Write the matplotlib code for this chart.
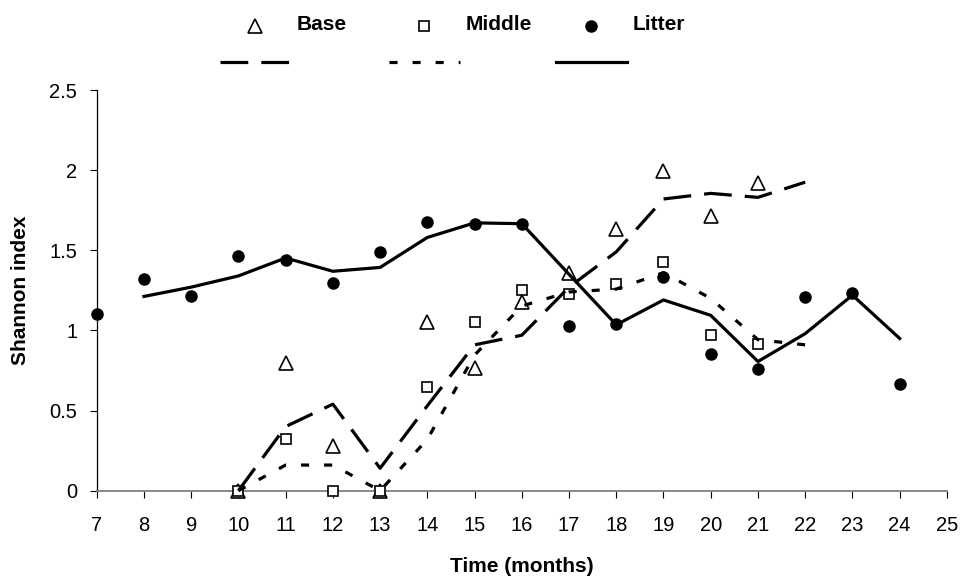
import matplotlib
matplotlib.use('Agg')
import matplotlib.pyplot as plt
from matplotlib.lines import Line2D

plt.rcParams['font.family'] = ['Liberation Sans', 'DejaVu Sans']
plt.rcParams['lines.scale_dashes'] = False

# Data
months_base = [10, 11, 12, 13, 14, 15, 16, 17, 18, 19, 20, 21]
base = [0, 0.795, 0.281, 0, 1.054, 0.765, 1.179, 1.356, 1.63, 1.994, 1.714, 1.918]
months_base_line = [10, 11, 12, 13, 14, 15, 16, 17, 18, 19, 20, 21, 22]
base_line = [0, 0.40, 0.54, 0.14, 0.53, 0.91, 0.97, 1.27, 1.49, 1.82, 1.855, 1.83, 1.925]

months_middle = [10, 11, 12, 13, 14, 15, 16, 17, 18, 19, 20, 21]
middle = [0, 0.325, 0, 0, 0.645, 1.054, 1.252, 1.227, 1.289, 1.429, 0.971, 0.913]
months_middle_line = [10, 11, 12, 13, 14, 15, 16, 17, 18, 19, 20, 21, 22]
middle_line = [0, 0.16, 0.16, 0, 0.32, 0.846, 1.152, 1.24, 1.258, 1.36, 1.20, 0.942, 0.91]

months_litter = list(range(7, 25))
litter = [1.10, 1.323, 1.216, 1.464, 1.439, 1.298, 1.487, 1.676, 1.666, 1.666,
          1.029, 1.040, 1.335, 0.853, 0.759, 1.206, 1.231, 0.664]
months_litter_line = list(range(8, 25))
litter_line = [1.212, 1.27, 1.34, 1.452, 1.369, 1.393, 1.58, 1.671, 1.666, 1.35,
               1.035, 1.19, 1.094, 0.806, 0.98, 1.22, 0.95]

xticks = list(range(7, 26))
yticks = [0, 0.5, 1, 1.5, 2, 2.5]
ytick_labels = ['0', '0.5', '1', '1.5', '2', '2.5']

# styles
LW = 2.3
base_dash = (0, (20, 9.4))
mid_dash = (0, (5.8, 10.8))
tri = dict(marker='^', ms=9.5, mfc='white', mec='black', mew=1.2, ls='none')
sq = dict(marker='s', ms=7.8, mfc='white', mec='black', mew=1.2, ls='none')
dot = dict(marker='o', ms=8, mfc='black', mec='black', mew=1, ls='none')

W, H = 962, 577
fig = plt.figure(figsize=(W / 100, H / 100), dpi=100)
ax = fig.add_axes([96.7 / W, 86.3 / H, (946.9 - 96.7) / W, (490.7 - 90) / H])

ax.plot(months_base, base, clip_on=False, zorder=3, **tri)
ax.plot(months_middle, middle, clip_on=False, zorder=3, **sq)
ax.plot(months_litter, litter, clip_on=False, zorder=3, **dot)

ax.plot(months_base_line, base_line, color='black', lw=LW, ls=base_dash, zorder=4, clip_on=False)
ax.plot(months_middle_line, middle_line, color='black', lw=LW, ls=mid_dash, zorder=4, clip_on=False)
ax.plot(months_litter_line, litter_line, color='black', lw=LW, ls='-', zorder=4, clip_on=False)

ax.set_xlim(7, 25)
ax.set_ylim(0, 2.5)
ax.set_xticks(xticks)
ax.set_yticks(yticks)
ax.set_yticklabels(ytick_labels)

for s in ['top', 'right']:
    ax.spines[s].set_visible(False)
ax.spines['left'].set_color('black')
ax.spines['left'].set_linewidth(0.9)
ax.spines['bottom'].set_color('#808080')
ax.spines['bottom'].set_linewidth(1.3)
ax.tick_params(axis='x', direction='out', length=5, width=0.8, color='black', pad=13, labelsize=14.5)
ax.tick_params(axis='y', direction='out', length=5, width=0.8, color='black', pad=9, labelsize=14.5)

ax.set_xlabel('Time (months)', fontsize=15, fontweight='bold')
ax.xaxis.label.set_va('center')
ax.xaxis.set_label_coords(0.5, (11 - 86.3) / 400.7)
ax.set_ylabel('Shannon index', fontsize=15, fontweight='bold')
ax.yaxis.label.set_va('center')
ax.yaxis.set_label_coords((20 - 96.7) / 850.2, 0.5)

# legend drawn by hand: markers + names on top row, trend lines underneath
def fx(px):
    return px / W

def fy(py):
    return 1 - py / H

legend_items = [('Base', tri, base_dash, 220),
                ('Middle', sq, mid_dash, 389),
                ('Litter', dot, '-', 556)]
for name, mk, style, x0 in legend_items:
    fig.add_artist(Line2D([fx(x0 + 35)], [fy(26)], transform=fig.transFigure, **mk))
    fig.add_artist(Line2D([fx(x0), fx(x0 + 71)], [fy(62), fy(62)], transform=fig.transFigure,
                          color='black', lw=LW, ls=style))
    fig.text(fx(x0 + 77), fy(25), name, fontsize=15, fontweight='bold', va='center', ha='left')

fig.savefig('out.png', dpi=100)
